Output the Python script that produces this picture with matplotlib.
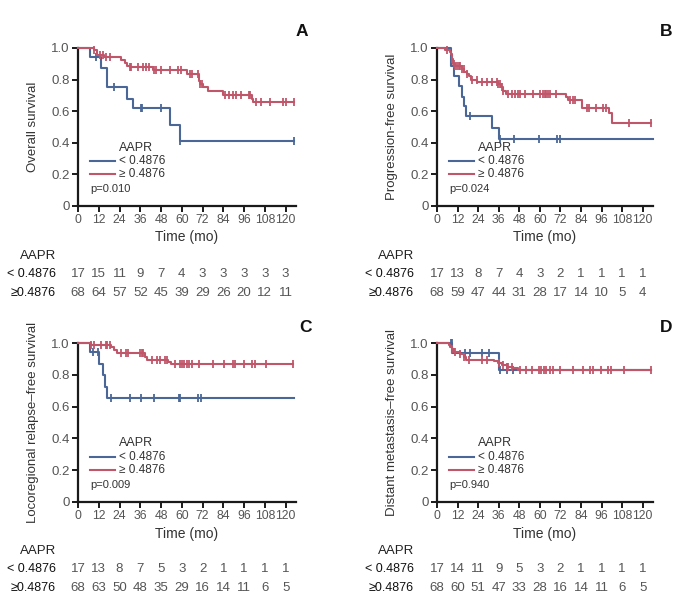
import matplotlib
matplotlib.use("Agg")
import matplotlib.pyplot as plt
from matplotlib import font_manager
from matplotlib.transforms import blended_transform_factory
import numpy as np

names = {f.name for f in font_manager.fontManager.ttflist}
NARROW = 'Liberation Sans Narrow' if 'Liberation Sans Narrow' in names else 'Liberation Sans'
plt.rcParams['font.family'] = [NARROW, 'DejaVu Sans']

BLUE = '#4a6797'
RED = '#c0566a'
TICKC = '#555555'

# ---------------- data ----------------
time_ticks = [0, 12, 24, 36, 48, 60, 72, 84, 96, 108, 120]
group_labels = ['< 0.4876', '\u2265 0.4876']

# Panel A: Overall survival
A_low_t = [0, 7.0, 13.3, 16.7, 28.5, 31.7, 53.3, 58.8]
A_low_s = [1.0, 0.941, 0.875, 0.75, 0.68, 0.619, 0.51, 0.409]
A_low_end = 125
A_low_cens = [10.6, 21, 36.2, 37.2, 47.7, 59, 125]
A_high_t = [0, 9.2, 11, 14.8, 25, 27, 28.5, 29.8, 43.3, 63, 70, 70.8, 72, 75, 83.6, 100.4, 101.3]
A_high_s = [1.0, 0.985, 0.955, 0.94, 0.925, 0.905, 0.885, 0.877, 0.862, 0.835, 0.79, 0.77, 0.75, 0.73, 0.703, 0.68, 0.66]
A_high_end = 125
A_high_cens = [9.2, 12.5, 14.4, 16.3, 18.3, 29.8, 30.8, 34.6, 37.5, 39.4, 41.3, 43.7, 45.2, 47.7,
               52.9, 58, 59.6, 64.8, 66, 69.2, 70.8, 71.7, 85, 87.5, 89.4, 91.3, 94.2, 98.7, 99.4,
               102.9, 105.8, 111, 118.7, 120.2, 125]
A_risk_low = [17, 15, 11, 9, 7, 4, 3, 3, 3, 3, 3]
A_risk_high = [68, 64, 57, 52, 45, 39, 29, 26, 20, 12, 11]

# Panel B: Progression-free survival
B_low_t = [0, 8.0, 8.4, 9.7, 12.6, 14.5, 15.5, 17, 32, 36.2]
B_low_s = [1.0, 0.94, 0.883, 0.82, 0.76, 0.69, 0.63, 0.57, 0.494, 0.426]
B_low_end = 126
B_low_cens = [19.3, 36.5, 45, 59.4, 70, 71.6]
B_high_t = [0, 4.8, 7.7, 8.3, 8.7, 9.3, 10.6, 14.5, 16, 17.4, 18.4, 20, 23.5, 35.8, 37.5, 38.5, 40,
            75.4, 76.2, 84.5, 100.6, 102]
B_high_s = [1.0, 0.99, 0.975, 0.96, 0.93, 0.90, 0.883, 0.865, 0.85, 0.835, 0.82, 0.80, 0.786, 0.77,
            0.75, 0.73, 0.71, 0.69, 0.67, 0.62, 0.59, 0.527]
B_high_end = 124.8
B_high_cens = [5.8, 8.7, 9.7, 10.6, 11.6, 12.6, 13.5, 14.5, 15.9, 17.4, 20.3, 23.2, 26.1, 29, 31.9,
               34.8, 35.8, 36.8, 37.7, 38.7, 41.6, 43.5, 45.5, 47.4, 48.4, 51.3, 56.1, 60, 61.9,
               62.9, 63.8, 64.8, 65.8, 69.6, 77.4, 79.3, 80.3, 87.4, 88.9, 92.8, 96.7, 98.6, 111.8, 124.8]
B_risk_low = [17, 13, 8, 7, 4, 3, 2, 1, 1, 1, 1]
B_risk_high = [68, 59, 47, 44, 31, 28, 17, 14, 10, 5, 4]

# Panel C: Locoregional relapse-free survival
C_low_t = [0, 7.2, 12, 14.5, 15.5, 16.8]
C_low_s = [1.0, 0.941, 0.87, 0.80, 0.723, 0.656]
C_low_end = 125
C_low_cens = [8.7, 11.5, 18.8, 30, 36.5, 44.2, 58.6, 59.2, 69.2, 71.2]
C_high_t = [0, 7.7, 19.3, 21, 22.5, 38.8, 40, 52, 54]
C_high_s = [1.0, 0.99, 0.975, 0.955, 0.937, 0.915, 0.895, 0.88, 0.866]
C_high_end = 124.4
C_high_cens = [7.7, 9.3, 13.5, 16.1, 16.8, 18.4, 24.8, 27.7, 29, 35.8, 36.8, 37.7, 42.6, 45.5, 47.4,
               50.3, 51.3, 56.1, 59, 60, 61.3, 62.9, 64.4, 65.8, 70, 78.3, 84.5, 89.6, 90.9, 95.7,
               100.6, 102.5, 108.7, 124.4]
C_risk_low = [17, 13, 8, 7, 5, 3, 2, 1, 1, 1, 1]
C_risk_high = [68, 63, 50, 48, 35, 29, 16, 14, 11, 6, 5]

# Panel D: Distant metastasis-free survival
D_low_t = [0, 9.0, 36.4]
D_low_s = [1.0, 0.94, 0.832]
D_low_end = 124.8
D_low_cens = [8.1, 8.6, 16.4, 19, 26.1, 30.4, 36.8, 40.6, 44.5]
D_high_t = [0, 6.8, 7.7, 8.7, 9.7, 13.5, 15.5, 17, 33.3, 35.8, 37.7, 40.6, 44.5, 47.4]
D_high_s = [1.0, 0.99, 0.975, 0.96, 0.945, 0.93, 0.915, 0.895, 0.885, 0.874, 0.86, 0.85, 0.84, 0.832]
D_high_end = 124.8
D_high_cens = [8.7, 10.6, 13.5, 15.9, 18.4, 26.1, 29, 36.4, 38.7, 40.6, 41.6, 43.5, 48.4, 52.2, 55.5,
               59.4, 60.9, 62.3, 63.8, 65.8, 67.7, 71.6, 79.3, 85.1, 89, 90.9, 95.7, 99.6, 101.5,
               109.3, 124.8]
D_risk_low = [17, 14, 11, 9, 5, 3, 2, 1, 1, 1, 1]
D_risk_high = [68, 60, 51, 47, 33, 28, 16, 14, 11, 6, 5]

panels = [
    dict(letter='A', ylabel='Overall survival', p='p=0.010',
         low=(A_low_t, A_low_s, A_low_end, A_low_cens), high=(A_high_t, A_high_s, A_high_end, A_high_cens),
         risk=(A_risk_low, A_risk_high)),
    dict(letter='B', ylabel='Progression-free survival', p='p=0.024',
         low=(B_low_t, B_low_s, B_low_end, B_low_cens), high=(B_high_t, B_high_s, B_high_end, B_high_cens),
         risk=(B_risk_low, B_risk_high)),
    dict(letter='C', ylabel='Locoregional relapse\u2013free survival', p='p=0.009',
         low=(C_low_t, C_low_s, C_low_end, C_low_cens), high=(C_high_t, C_high_s, C_high_end, C_high_cens),
         risk=(C_risk_low, C_risk_high)),
    dict(letter='D', ylabel='Distant metastasis\u2013free survival', p='p=0.940',
         low=(D_low_t, D_low_s, D_low_end, D_low_cens), high=(D_high_t, D_high_s, D_high_end, D_high_cens),
         risk=(D_risk_low, D_risk_high)),
]

W, H = 682, 605
fig = plt.figure(figsize=(W / 100, H / 100), dpi=100)

# layout in pixels: (left, top-of-1.0, width, bottom-of-0)
layout = [(78, 48, 218, 206), (437, 48, 216, 206), (78, 343, 218, 502), (437, 343, 216, 502)]
letter_pos = [(302, 32), (666, 32), (305, 327), (666, 327)]
table_rows = [(256, 274, 293), (256, 274, 293), (551, 569, 588), (551, 569, 588)]
label_right = [56, 414, 56, 414]


def step_xy(t, s, end):
    x = list(t) + [end]
    y = list(s) + [s[-1]]
    return x, y


def surv_at(t, s, c):
    idx = np.searchsorted(np.asarray(t), c, side='right') - 1
    return s[max(idx, 0)]


for i, p in enumerate(panels):
    l, top, w, bot = layout[i]
    ax = fig.add_axes([l / W, 1 - bot / H, w / W, (bot - top) / H])
    for key, col in (('low', BLUE), ('high', RED)):
        t, s, end, cens = p[key]
        x, y = step_xy(t, s, end)
        ax.step(x, y, where='post', color=col, lw=1.5, clip_on=False, zorder=3 if key == 'high' else 2)
        cy = [surv_at(t, s, c) for c in cens]
        ax.plot(cens, cy, ls='none', marker='|', ms=5.5, mew=1.3, color=col, clip_on=False,
                zorder=3 if key == 'high' else 2)
    ax.set_xlim(0, 126)
    ax.set_ylim(0, 1.0)
    for sp in ('top', 'right'):
        ax.spines[sp].set_visible(False)
    for sp in ('left', 'bottom'):
        ax.spines[sp].set_linewidth(1.6)
        ax.spines[sp].set_color('#1a1a1a')
    ax.set_xticks(time_ticks)
    ax.set_xticklabels([str(v) for v in time_ticks])
    ax.set_yticks([0, 0.2, 0.4, 0.6, 0.8, 1.0])
    ax.set_yticklabels(['0', '0.2', '0.4', '0.6', '0.8', '1.0'])
    ax.tick_params(axis='both', direction='out', length=4, width=1.4, color='#1a1a1a',
                   labelsize=9.5, labelcolor=TICKC, pad=2)
    ax.tick_params(axis='x', labelsize=8.8)
    ax.set_xlabel('Time (mo)', fontsize=10, color='#333333')
    ax.xaxis.set_label_coords(0.5, -0.155)
    ax.set_ylabel(p['ylabel'], fontsize=9.5, color='#333333')
    ax.yaxis.set_label_coords(-0.18, 0.5)

    # legend drawn in data coordinates
    ax.text(23.8, 0.37, 'AAPR', fontsize=9, color='#333333', va='center', ha='left')
    ax.plot([7.2, 21.3], [0.283, 0.283], color=BLUE, lw=1.5)
    ax.plot([7.2, 21.3], [0.203, 0.203], color=RED, lw=1.5)
    ax.text(23.8, 0.283, group_labels[0], fontsize=8.5, color='#333333', va='center', ha='left')
    ax.text(23.8, 0.203, group_labels[1], fontsize=8.5, color='#333333', va='center', ha='left')
    ax.text(7.2, 0.105, p['p'], fontsize=8, color='#333333', va='center', ha='left')

    # panel letter
    lx, ly = letter_pos[i]
    fig.text(lx / W, 1 - ly / H, p['letter'], fontsize=12.5, fontweight='bold', ha='center', va='center',
             color='#111111')

    # number at risk table
    ty, r1, r2 = table_rows[i]
    fig.text(label_right[i] / W, 1 - ty / H, 'AAPR', fontsize=9.5, ha='right', va='center', color='#222222')
    fig.text(label_right[i] / W, 1 - r1 / H, group_labels[0], fontsize=9, ha='right', va='center',
             color='#111111')
    fig.text(label_right[i] / W, 1 - r2 / H, group_labels[1].replace(' ', ''), fontsize=9, ha='right',
             va='center', color='#111111')
    trans = blended_transform_factory(ax.transData, fig.transFigure)
    for row_y, vals in ((r1, p['risk'][0]), (r2, p['risk'][1])):
        for tt, v in zip(time_ticks, vals):
            fig.text(tt, 1 - row_y / H, str(v), transform=trans, fontsize=9.5, ha='center', va='center',
                     color=TICKC)

fig.savefig('out.png', dpi=100)
